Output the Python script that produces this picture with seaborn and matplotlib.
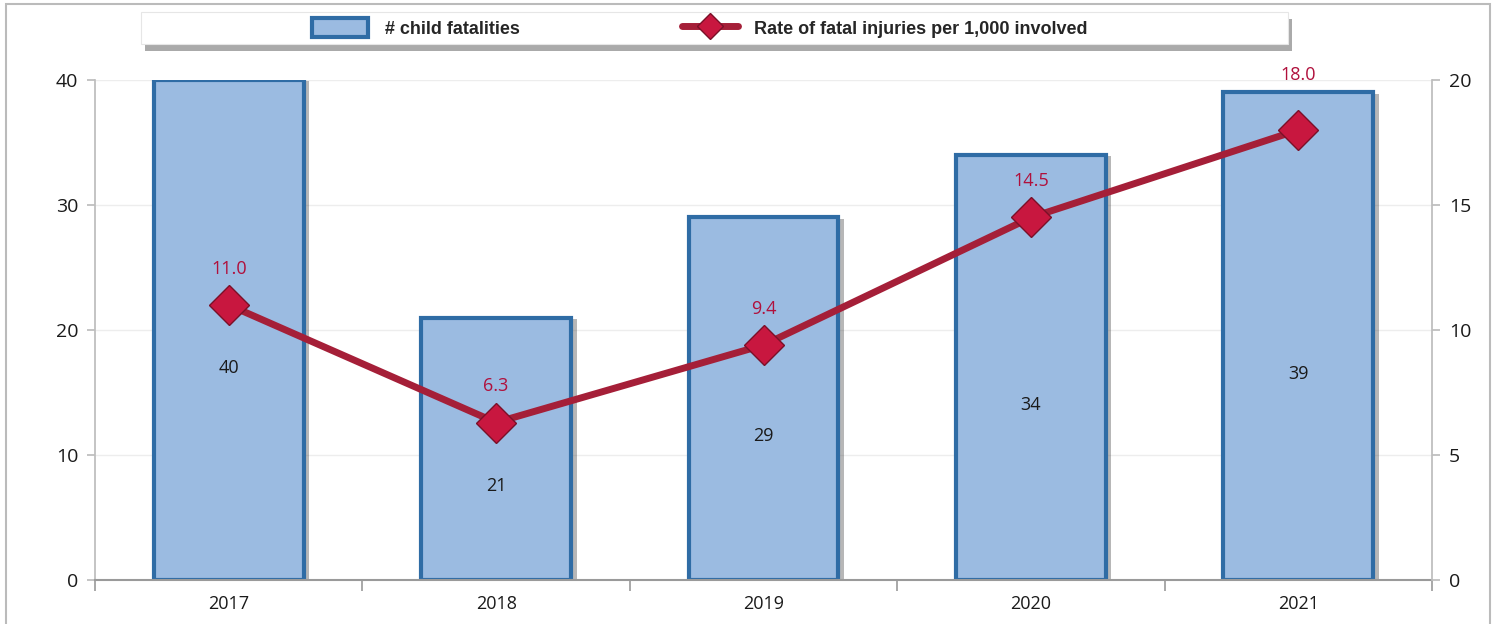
import matplotlib
matplotlib.use("Agg")
import matplotlib.pyplot as plt
import matplotlib.patheffects as pe
from matplotlib.lines import Line2D
from matplotlib.patches import Patch, Rectangle
import seaborn as sns
import pandas as pd

# data
years = ["2017", "2018", "2019", "2020", "2021"]
child_fatalities = [40, 21, 29, 34, 39]
fatal_rate = [11.0, 6.3, 9.4, 14.5, 18.0]

BAR_FILL = "#9BBBE1"
BAR_EDGE = "#2F6CA5"
LINE_COL = "#A51F38"
MARK_COL = "#C8173F"
LABEL_RED = "#B0103C"
TXT = "#1a1a1a"

sns.set_theme(style="white")
plt.rcParams["font.family"] = ["Open Sans", "DejaVu Sans"]

df = pd.DataFrame({"year": years, "count": child_fatalities, "rate": fatal_rate})

fig = plt.figure(figsize=(14.97, 6.24), dpi=100)
ax = fig.add_axes([0.0635, 0.0705, 0.8931, 0.8013])

sns.barplot(data=df, x="year", y="count", ax=ax, color=BAR_FILL, width=0.56,
            edgecolor=BAR_EDGE, linewidth=3, saturation=1, zorder=2)
for p in ax.patches:
    p.set_path_effects([pe.SimplePatchShadow(offset=(4, -1), shadow_rgbFace="#333333", alpha=0.35),
                        pe.Normal()])

ax.set_ylim(0, 40)
ax.set_xlim(-0.5, 4.5)
ax.set_yticks([0, 10, 20, 30, 40])
ax.set_xlabel("")
ax.set_ylabel("")
ax.grid(axis="y", color="#EDEDED", linewidth=1, zorder=0)
ax.set_axisbelow(True)

# count labels inside the bars
for i, v in enumerate(child_fatalities):
    ax.text(i, v / 2 - 3, str(v), ha="center", va="center", fontsize=13, color=TXT, zorder=5)

# secondary axis with the rate line
ax2 = ax.twinx()
sns.lineplot(data=df, x="year", y="rate", ax=ax2, color=LINE_COL, linewidth=5,
             marker="D", markersize=20, markerfacecolor=MARK_COL,
             markeredgecolor="#7A1028", markeredgewidth=1, zorder=4)
ax2.set_ylim(0, 20)
ax2.set_yticks([0, 5, 10, 15, 20])
ax2.set_xlim(-0.5, 4.5)
ax2.set_ylabel("")
ax2.set_xlabel("")
for i, r in enumerate(fatal_rate):
    y = r + 1.45
    # push the label above the bar when it would sit on the bar's top edge
    if abs(y - child_fatalities[i] / 2) < 1:
        y = child_fatalities[i] / 2 + 0.7
    ax2.text(i, y, f"{r:.1f}", ha="center", va="center", fontsize=13,
             color=LABEL_RED, clip_on=False, zorder=6)

# spines and ticks
for a in (ax, ax2):
    for s in a.spines.values():
        s.set_visible(False)
ax.spines["left"].set_visible(True)
ax.spines["bottom"].set_visible(True)
ax2.spines["right"].set_visible(True)
ax.spines["left"].set_color("#BDBDBD")
ax.spines["bottom"].set_color("#9A9A9A")
ax2.spines["right"].set_color("#BDBDBD")
ax.spines["bottom"].set_linewidth(1.5)

ax.tick_params(axis="y", left=True, length=6, color="#BDBDBD", labelsize=14, pad=6, labelcolor=TXT)
ax2.tick_params(axis="y", right=True, length=6, color="#BDBDBD", labelsize=14, pad=6, labelcolor=TXT)
ax.set_xticks(range(len(years)))
ax.set_xticklabels(years)
ax.tick_params(axis="x", bottom=False, labelsize=13, pad=5, labelcolor=TXT)
# category boundary ticks
ax.set_xticks([-0.5, 0.5, 1.5, 2.5, 3.5, 4.5], minor=True)
ax.tick_params(axis="x", which="minor", bottom=True, length=8, width=1.2, color="#9A9A9A")

# legend box drawn by hand so it spans like the reference
box = Rectangle((0.0942, 0.9295), 0.7662, 0.0513, transform=fig.transFigure,
                facecolor="white", edgecolor="#E6E6E6", linewidth=0.8, zorder=1)
box.set_path_effects([pe.SimplePatchShadow(offset=(3, -5), shadow_rgbFace="#444444", alpha=0.45),
                      pe.Normal()])
fig.patches.append(box)

handles = [
    Patch(facecolor=BAR_FILL, edgecolor=BAR_EDGE, linewidth=3),
    Line2D([0], [0], color=LINE_COL, linewidth=5, marker="D", markersize=13,
           markerfacecolor=MARK_COL, markeredgecolor="#7A1028"),
]
leg = fig.legend(handles, ["# child fatalities", "Rate of fatal injuries per 1,000 involved"],
                 loc="center", bbox_to_anchor=(0.4676, 0.9551), ncol=2, frameon=False,
                 columnspacing=9.0, handlelength=3.1, handleheight=1.2, handletextpad=0.9,
                 prop={"family": ["Liberation Sans Narrow", "Liberation Sans", "DejaVu Sans"],
                       "weight": "bold", "size": 13})
leg.set_zorder(3)

# outer frame
fig.patches.append(Rectangle((0.004, -0.01), 0.991, 1.004, transform=fig.transFigure,
                             fill=False, edgecolor="#BBBBBB", linewidth=1.5, zorder=0))

fig.savefig("out.png", dpi=100)
